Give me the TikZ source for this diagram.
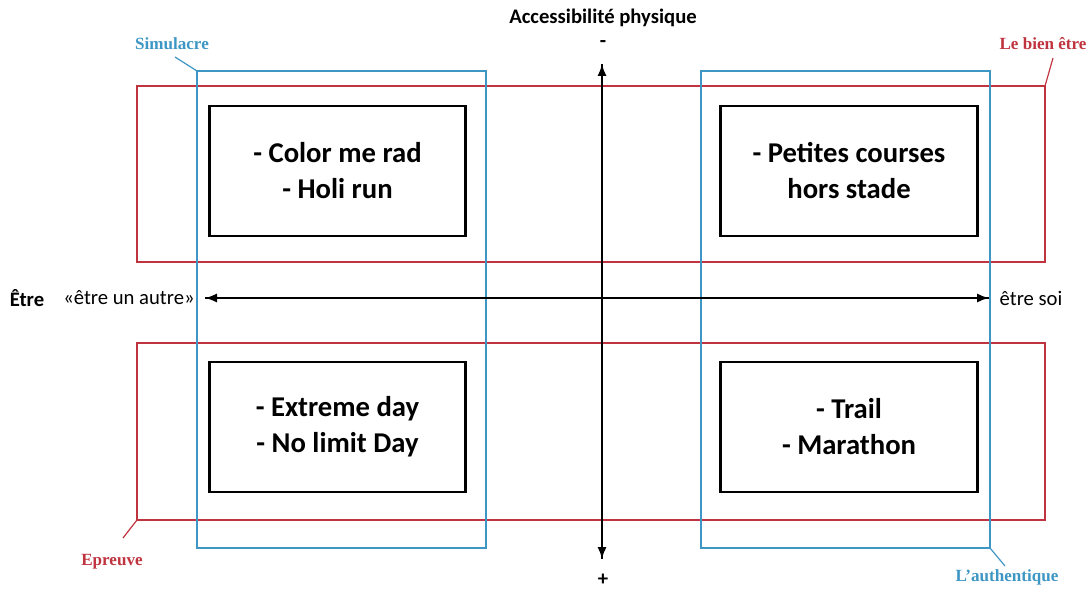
\documentclass[tikz,border=0pt]{standalone}
\usepackage{fontspec}
\setmainfont{Carlito}
\newfontfamily\labelfont{Liberation Serif}
\usepackage{tikz}
\usetikzlibrary{arrows.meta}
\definecolor{zoneblue}{RGB}{62,150,196}
\definecolor{zonered}{RGB}{192,52,64}
\tikzset{
  quadbox/.style={draw, line width=2.2pt, minimum width=192.5pt, minimum height=97.5pt, align=center, font=\bfseries\fontsize{21.5}{27}\selectfont},
  redzone/.style={draw=zonered, line width=0.9pt},
  bluezone/.style={draw=zoneblue, line width=0.9pt},
  axis/.style={line width=1.8pt, -{Latex[length=9pt,width=7pt]}},
  axistext/.style={font=\fontsize{15.5}{18}\selectfont},
  zonelabel/.style={font=\labelfont\bfseries\fontsize{12.8}{14}\selectfont}
}
\begin{document}
\begin{tikzpicture}[x=0.75pt, y=-0.75pt]
            \useasboundingbox (0,0) rectangle (1091,592);
            % zones
            \draw[redzone] (137,86) rectangle (1045,262);
            \draw[redzone] (137,343) rectangle (1045,520);
            \draw[bluezone] (197,71) rectangle (486,548);
            \draw[bluezone] (701,71) rectangle (990,548);
            % quadrants
            \node[quadbox] (colorrun) at (337.5,171) {- Color me rad\\- Holi run};
            \node[quadbox] (courses) at (849,171) {- Petites courses\\hors stade};
            \node[quadbox] (extreme) at (337.5,427) {- Extreme day\\- No limit Day};
            \node[quadbox] (trail) at (849,427) {- Trail\\- Marathon};
            % axes
            \coordinate (top) at (602,64);
            \coordinate (bottom) at (602,559);
            \coordinate (left) at (205,298);
            \coordinate (right) at (989,298);
            \draw[axis] (bottom) -- (top);
            \draw[axis] (top) -- (bottom);
            \draw[axis] (left) -- (right);
            \draw[axis] (right) -- (left);
            \node[axistext, font=\bfseries\fontsize{15.5}{18}\selectfont] (access) at (603,18) {Accessibilité physique};
            \node[axistext, font=\bfseries\fontsize{15.5}{18}\selectfont] (moins) at (603,44) {-};
            \node[axistext, font=\bfseries\fontsize{15.5}{18}\selectfont] (plus) at (603,580) {+};
            \node[axistext, font=\bfseries\fontsize{15.5}{18}\selectfont] (etre) at (27,298) {Être};
            \node[axistext] (autre) at (129,298) {«être un autre»};
            \node[axistext] (soi) at (1031,298) {être soi};
            % labels
            \node[zonelabel, text=zoneblue] (simul) at (172,44) {Simulacre};
            \node[zonelabel, text=zonered] (bienetre) at (1043,44) {Le bien être};
            \node[zonelabel, text=zonered] (epreuve) at (112,562) {Epreuve};
            \node[zonelabel, text=zoneblue] (authent) at (1007,577) {L’authentique};
            \coordinate (simulc) at (197,71);
            \coordinate (bienc) at (1045,86);
            \coordinate (epreuvec) at (137,520);
            \coordinate (authc) at (990,548);
            \draw[bluezone] (175,57) -- (simulc);
            \draw[redzone] (1053,58) -- (bienc);
            \draw[redzone] (123,538) -- (epreuvec);
            \draw[bluezone] (1005,566) -- (authc);
\end{tikzpicture}
\end{document}
